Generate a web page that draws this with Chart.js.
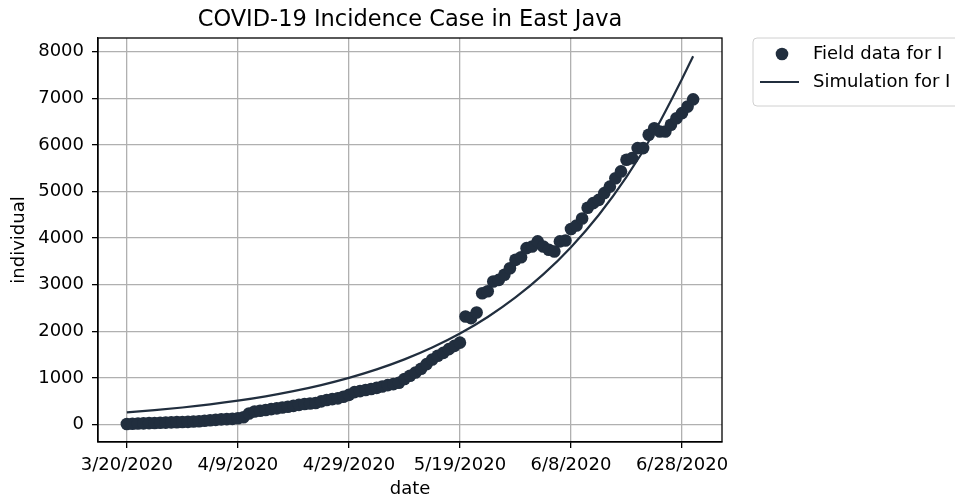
<!DOCTYPE html>
<html>
<head>
<meta charset="utf-8">
<script src="https://cdn.jsdelivr.net/npm/chart.js@4"></script>
<style>
  html, body { margin: 0; padding: 0; background: #ffffff; }
  #wrap { width: 955px; height: 501px; position: relative; }
</style>
</head>
<body>
<div id="wrap"><canvas id="chart" width="955" height="501"></canvas></div>
<script>
// Daily field data for I (active cases), one value per day starting 3/20/2020
const fieldValues = [
  15, 20, 25, 30, 35, 38, 42, 45, 50, 55,
  58, 62, 68, 75, 85, 95, 105, 115, 120, 125,
  140, 160, 240, 285, 300, 315, 335, 350, 370, 385,
  405, 425, 445, 455, 465, 500, 530, 550, 565, 600,
  640, 700, 720, 745, 765, 790, 820, 850, 870, 900,
  980, 1050, 1120, 1200, 1300, 1400, 1480, 1540, 1620, 1690,
  1760, 2320, 2285, 2405, 2820, 2860, 3070, 3105, 3215, 3355,
  3535, 3590, 3785, 3820, 3930, 3820, 3750, 3715, 3930, 3950,
  4195, 4270, 4420, 4650, 4750, 4820, 4965, 5105, 5285, 5430,
  5680, 5715, 5930, 5930, 6215, 6355, 6285, 6285, 6430, 6570,
  6680, 6820, 6975
];

// Simulated I at selected days since 3/20/2020
const simDays   = [0, 5, 10, 15, 20, 25, 30, 35, 40, 45, 50, 55, 60, 65, 70, 75, 80, 85, 90, 95, 100, 102];
const simValues = [265, 313, 370, 437, 516, 609, 720, 850, 1004, 1186, 1401, 1655, 1955, 2310, 2729, 3223, 3807, 4497, 5313, 6276, 7413, 7900];

// Date labels for the x ticks (every 20 days)
const xTickLabels = ['3/20/2020', '4/9/2020', '4/29/2020', '5/19/2020', '6/8/2020', '6/28/2020'];
const yTickValues = [0, 1000, 2000, 3000, 4000, 5000, 6000, 7000, 8000];

const seriesNames = ['Field data for I', 'Simulation for I'];
const titleText = 'COVID-19 Incidence Case in East Java';

const INK = '#212e3e';
const FONT = "'DejaVu Sans', sans-serif";

const fieldPoints = fieldValues.map((v, i) => ({ x: i, y: v }));
const simPoints = simDays.map((d, i) => ({ x: d, y: simValues[i] }));

// Title centred over the plot, full box around the plot area, legend outside on the right
const framePlugin = {
  id: 'frameAndLegend',
  afterDraw(chart) {
    const { ctx, chartArea: a } = chart;
    ctx.save();

    ctx.fillStyle = '#000000';
    ctx.font = '22.5px ' + FONT;
    ctx.textAlign = 'center';
    ctx.textBaseline = 'middle';
    ctx.fillText(titleText, (a.left + a.right) / 2, 20);

    ctx.strokeStyle = '#000000';
    ctx.lineWidth = 1.3;
    ctx.strokeRect(a.left, a.top, a.right - a.left, a.bottom - a.top);

    // legend box
    const bx = 753, by = 38, bw = 260, bh = 68, r = 4;
    ctx.beginPath();
    ctx.roundRect(bx, by, bw, bh, r);
    ctx.fillStyle = 'rgba(255,255,255,0.8)';
    ctx.fill();
    ctx.strokeStyle = '#d0d0d0';
    ctx.lineWidth = 1;
    ctx.stroke();

    // marker entry
    ctx.fillStyle = INK;
    ctx.beginPath();
    ctx.arc(782, 54, 6.3, 0, Math.PI * 2);
    ctx.fill();
    // line entry
    ctx.strokeStyle = INK;
    ctx.lineWidth = 2.2;
    ctx.beginPath();
    ctx.moveTo(760, 82);
    ctx.lineTo(799, 82);
    ctx.stroke();

    ctx.fillStyle = '#000000';
    ctx.font = '18px ' + FONT;
    ctx.textBaseline = 'middle';
    ctx.textAlign = 'left';
    ctx.fillText(seriesNames[0], 813, 54);
    ctx.fillText(seriesNames[1], 813, 82);
    ctx.restore();
  }
};

new Chart(document.getElementById('chart'), {
  type: 'scatter',
  data: {
    datasets: [
      {
        label: seriesNames[1],
        data: simPoints,
        showLine: true,
        borderColor: INK,
        borderWidth: 2.2,
        pointRadius: 0,
        cubicInterpolationMode: 'monotone',
        order: 0
      },
      {
        label: seriesNames[0],
        data: fieldPoints,
        showLine: false,
        backgroundColor: INK,
        borderColor: INK,
        borderWidth: 0,
        pointRadius: 6.3,
        order: 1
      }
    ]
  },
  options: {
    responsive: false,
    animation: false,
    devicePixelRatio: 1,
    layout: { padding: { left: 0, right: 233, top: 38, bottom: 0 } },
    plugins: {
      legend: { display: false },
      tooltip: { enabled: false },
      title: { display: false }
    },
    scales: {
      x: {
        type: 'linear',
        min: -5.2,
        max: 107.2,
        afterFit(scale) { scale.height = 59; },
        afterBuildTicks(scale) {
          scale.ticks = xTickLabels.map((_, i) => ({ value: i * 20 }));
        },
        ticks: {
          includeBounds: false,
          color: '#000000',
          font: { family: FONT, size: 18 },
          padding: 7,
          maxRotation: 0,
          autoSkip: false,
          callback: (v) => xTickLabels[Math.round(v / 20)]
        },
        grid: { color: '#b0b0b0', lineWidth: 1.3, tickLength: 6, tickColor: '#000000', tickWidth: 1.3 },
        border: { display: true, color: '#000000', width: 1.3 },
        title: {
          display: true,
          text: 'date',
          color: '#000000',
          font: { family: FONT, size: 18 },
          padding: { top: 0, bottom: 1 }
        }
      },
      y: {
        type: 'linear',
        min: -370,
        max: 8290,
        afterFit(scale) { scale.width = 98; },
        afterBuildTicks(scale) {
          scale.ticks = yTickValues.map(v => ({ value: v }));
        },
        ticks: {
          includeBounds: false,
          color: '#000000',
          font: { family: FONT, size: 18 },
          padding: 8,
          callback: (v) => String(v)
        },
        grid: { color: '#b0b0b0', lineWidth: 1.3, tickLength: 6, tickColor: '#000000', tickWidth: 1.3 },
        border: { display: true, color: '#000000', width: 1.3 },
        title: {
          display: true,
          text: 'individual',
          color: '#000000',
          font: { family: FONT, size: 18 },
          padding: { top: 9, bottom: 0 }
        }
      }
    }
  },
  plugins: [framePlugin]
});
</script>
</body>
</html>
